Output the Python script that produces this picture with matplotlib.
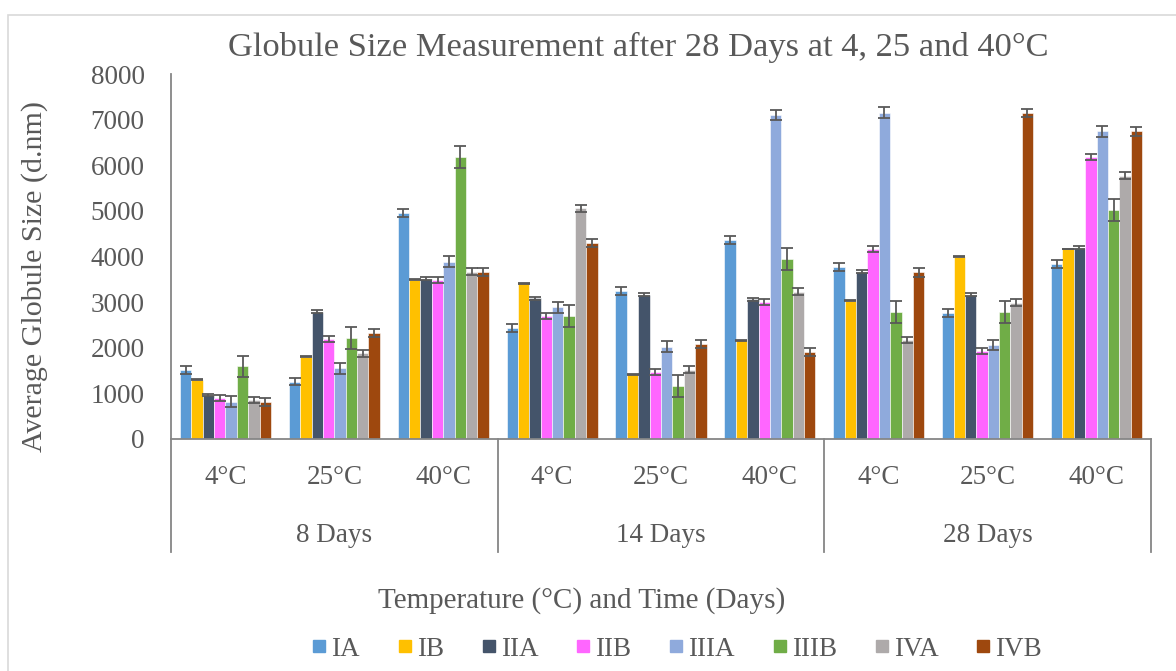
import matplotlib
matplotlib.use('Agg')
import matplotlib.pyplot as plt
import matplotlib.transforms as mtransforms
from matplotlib.lines import Line2D
import numpy as np

series = ['IA', 'IB', 'IIA', 'IIB', 'IIIA', 'IIIB', 'IVA', 'IVB']
temps = ['4°C', '25°C', '40°C'] * 3
days = ['8 Days', '14 Days', '28 Days']

# values per series, one per group (8d 4/25/40, 14d 4/25/40, 28d 4/25/40)
IA = [1510, 1260, 4960, 2440, 3245, 4365, 3765, 2755, 3830]
IB = [1295, 1805, 3490, 3415, 1420, 2160, 3035, 4000, 4165]
IIA = [965, 2790, 3510, 3085, 3160, 3065, 3670, 3160, 4195]
IIB = [890, 2185, 3485, 2705, 1475, 2995, 4160, 1930, 6190]
IIIA = [820, 1550, 3890, 2885, 2025, 7105, 7155, 2060, 6740]
IIIB = [1590, 2220, 6190, 2695, 1165, 3940, 2790, 2780, 5020]
IVA = [855, 1880, 3670, 5060, 1515, 3230, 2170, 2990, 5775]
IVB = [815, 2330, 3655, 4290, 2075, 1915, 3650, 7140, 6740]
values = [IA, IB, IIA, IIB, IIIA, IIIB, IVA, IVB]

# error (+/-) per series
errors = [85, 10, 30, 65, 115, 240, 75, 90]

colors = ['#5B9BD5', '#FFC000', '#44546A', '#FF66FF', '#8FAADC', '#70AD47', '#AEAAAA', '#9E480E']
txt = '#595959'
font = 'Liberation Serif'

W, H = 1176, 671
fig = plt.figure(figsize=(W / 100, H / 100), dpi=100)
plt.rcParams['font.family'] = font

# chart border (top and left visible)
fig.patches.append(plt.Rectangle((8 / W, -0.1), 1.2, 1 - 15 / H + 0.1, transform=fig.transFigure,
                                 fill=False, edgecolor='#D9D9D9', linewidth=1.2))

left, right, top, bottom = 171, 1151, 74, 439
ax = fig.add_axes([left / W, 1 - bottom / H, (right - left) / W, (bottom - top) / H])

x = np.arange(len(temps))
w = 0.836 / len(series)
for j, (name, vals) in enumerate(zip(series, values)):
    ax.bar(x + (j - 3.5) * w, vals, w, color=colors[j], edgecolor='white', linewidth=0.4, label=name, zorder=2)
    ax.errorbar(x + (j - 3.5) * w, vals, yerr=errors[j], fmt='none', ecolor='#595959',
                elinewidth=1.3, capsize=4.2, capthick=1.3, zorder=3)

ax.set_xlim(-0.5, 8.5)
ax.set_ylim(0, 8000)
ax.set_yticks(range(0, 8001, 1000))
ax.tick_params(axis='y', length=0, pad=19, labelsize=19.5, labelcolor=txt)
ax.set_xticks([])
for s in ['top', 'right']:
    ax.spines[s].set_visible(False)
ax.spines['left'].set_color('#868686')
ax.spines['bottom'].set_color('#868686')
ax.spines['left'].set_linewidth(1.3)
ax.spines['bottom'].set_linewidth(1.3)

# multi-level category axis
trans = mtransforms.blended_transform_factory(ax.transData, ax.transAxes)
depth = (551.7 - bottom) / (bottom - top)
for xs in [-0.5, 2.5, 5.5, 8.5]:
    ax.plot([xs, xs], [0, -depth], transform=trans, color='#868686', lw=1.3, clip_on=False)
for i, t in enumerate(temps):
    ax.text(i, -(478 - bottom) / (bottom - top), t, transform=trans, ha='center', va='center',
            fontsize=19.5, color=txt)
for i, d in enumerate(days):
    ax.text(3 * i + 1, -(535 - bottom) / (bottom - top), d, transform=trans, ha='center', va='center',
            fontsize=19.5, color=txt)

fig.text(638 / W, 1 - 47 / H, 'Globule Size Measurement after 28 Days at 4, 25 and 40°C',
         ha='center', va='center', fontsize=24.8, color=txt)
fig.text(35 / W, 1 - 276 / H, 'Average Globule Size (d.nm)', rotation=90,
         ha='center', va='center', fontsize=21.6, color=txt)
fig.text(582 / W, 1 - 601 / H, 'Temperature (°C) and Time (Days)',
         ha='center', va='center', fontsize=21, color=txt)

handles = [Line2D([], [], marker='s', linestyle='none', markersize=9, color=c) for c in colors]
leg = fig.legend(handles, series, loc='center', bbox_to_anchor=(676 / W, 1 - 649 / H), ncol=8,
                 frameon=False, fontsize=19.5, handletextpad=0.1, columnspacing=1.3,
                 handlelength=0.7)
for t in leg.get_texts():
    t.set_color(txt)

fig.savefig('out.png', dpi=100)
